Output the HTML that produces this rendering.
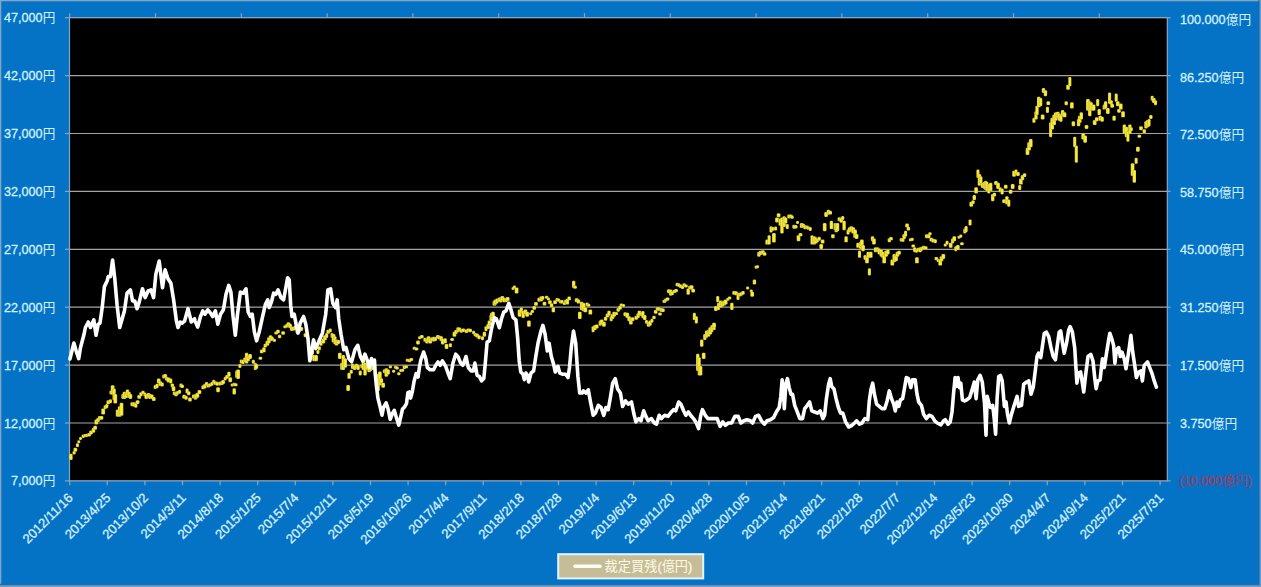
<!DOCTYPE html>
<html><head><meta charset="utf-8"><title>chart</title>
<style>
html,body{margin:0;padding:0;}
body{width:1261px;height:587px;overflow:hidden;background:#0473C5;font-family:"Liberation Sans","Noto Sans CJK JP",sans-serif;}
svg{display:block;}
text{font-family:"Liberation Sans","Noto Sans CJK JP",sans-serif;stroke-width:0.3px;}
</style></head><body>
<svg width="1261" height="587" viewBox="0 0 1261 587">
<rect x="0" y="0" width="1261" height="587" fill="#0473C5"/>
<rect x="0" y="0" width="1261" height="1.3" fill="#84A5C4"/>
<rect x="0" y="0" width="1.3" height="587" fill="#84A5C4"/>
<rect x="1258.4" y="0" width="1.3" height="587" fill="#1F6BAC"/>
<rect x="0" y="583.8" width="1261" height="1.5" fill="#1F6BAC"/>
<rect x="1259.6" y="0" width="1.4" height="587" fill="#6B9BC6"/>
<rect x="0" y="585.2" width="1261" height="1.8" fill="#6B9BC6"/>
<rect x="70.0" y="18.2" width="1097.0" height="462.2" fill="#000"/>
<line x1="70.0" y1="17.70" x2="1167.0" y2="17.70" stroke="#8FA3BA" stroke-width="1.2"/>
<line x1="65.0" y1="17.70" x2="70.0" y2="17.70" stroke="#8FA3BA" stroke-width="1.2"/>
<line x1="1167.0" y1="17.70" x2="1170.5" y2="17.70" stroke="#8FA3BA" stroke-width="1.2"/>
<line x1="70.0" y1="75.60" x2="1167.0" y2="75.60" stroke="#A4A4A4" stroke-width="1.2"/>
<line x1="65.0" y1="75.60" x2="70.0" y2="75.60" stroke="#8FA3BA" stroke-width="1.2"/>
<line x1="1167.0" y1="75.60" x2="1170.5" y2="75.60" stroke="#8FA3BA" stroke-width="1.2"/>
<line x1="70.0" y1="133.50" x2="1167.0" y2="133.50" stroke="#A4A4A4" stroke-width="1.2"/>
<line x1="65.0" y1="133.50" x2="70.0" y2="133.50" stroke="#8FA3BA" stroke-width="1.2"/>
<line x1="1167.0" y1="133.50" x2="1170.5" y2="133.50" stroke="#8FA3BA" stroke-width="1.2"/>
<line x1="70.0" y1="191.40" x2="1167.0" y2="191.40" stroke="#A4A4A4" stroke-width="1.2"/>
<line x1="65.0" y1="191.40" x2="70.0" y2="191.40" stroke="#8FA3BA" stroke-width="1.2"/>
<line x1="1167.0" y1="191.40" x2="1170.5" y2="191.40" stroke="#8FA3BA" stroke-width="1.2"/>
<line x1="70.0" y1="249.30" x2="1167.0" y2="249.30" stroke="#A4A4A4" stroke-width="1.2"/>
<line x1="65.0" y1="249.30" x2="70.0" y2="249.30" stroke="#8FA3BA" stroke-width="1.2"/>
<line x1="1167.0" y1="249.30" x2="1170.5" y2="249.30" stroke="#8FA3BA" stroke-width="1.2"/>
<line x1="70.0" y1="307.20" x2="1167.0" y2="307.20" stroke="#A4A4A4" stroke-width="1.2"/>
<line x1="65.0" y1="307.20" x2="70.0" y2="307.20" stroke="#8FA3BA" stroke-width="1.2"/>
<line x1="1167.0" y1="307.20" x2="1170.5" y2="307.20" stroke="#8FA3BA" stroke-width="1.2"/>
<line x1="70.0" y1="365.10" x2="1167.0" y2="365.10" stroke="#A4A4A4" stroke-width="1.2"/>
<line x1="65.0" y1="365.10" x2="70.0" y2="365.10" stroke="#8FA3BA" stroke-width="1.2"/>
<line x1="1167.0" y1="365.10" x2="1170.5" y2="365.10" stroke="#8FA3BA" stroke-width="1.2"/>
<line x1="70.0" y1="423.00" x2="1167.0" y2="423.00" stroke="#A4A4A4" stroke-width="1.2"/>
<line x1="65.0" y1="423.00" x2="70.0" y2="423.00" stroke="#8FA3BA" stroke-width="1.2"/>
<line x1="1167.0" y1="423.00" x2="1170.5" y2="423.00" stroke="#8FA3BA" stroke-width="1.2"/>
<line x1="70.0" y1="480.90" x2="1167.0" y2="480.90" stroke="#8FA3BA" stroke-width="1.2"/>
<line x1="65.0" y1="480.90" x2="70.0" y2="480.90" stroke="#8FA3BA" stroke-width="1.2"/>
<line x1="1167.0" y1="480.90" x2="1170.5" y2="480.90" stroke="#8FA3BA" stroke-width="1.2"/>
<line x1="69.5" y1="17.2" x2="69.5" y2="481.4" stroke="#8FA3BA" stroke-width="1.2"/>
<line x1="1167.3" y1="17.2" x2="1167.3" y2="481.4" stroke="#8FA3BA" stroke-width="1.2"/>
<line x1="69.70" y1="480.9" x2="69.70" y2="485.3" stroke="#8FA3BA" stroke-width="1.2"/>
<line x1="107.30" y1="480.9" x2="107.30" y2="485.3" stroke="#8FA3BA" stroke-width="1.2"/>
<line x1="144.90" y1="480.9" x2="144.90" y2="485.3" stroke="#8FA3BA" stroke-width="1.2"/>
<line x1="182.50" y1="480.9" x2="182.50" y2="485.3" stroke="#8FA3BA" stroke-width="1.2"/>
<line x1="220.10" y1="480.9" x2="220.10" y2="485.3" stroke="#8FA3BA" stroke-width="1.2"/>
<line x1="257.70" y1="480.9" x2="257.70" y2="485.3" stroke="#8FA3BA" stroke-width="1.2"/>
<line x1="295.30" y1="480.9" x2="295.30" y2="485.3" stroke="#8FA3BA" stroke-width="1.2"/>
<line x1="332.90" y1="480.9" x2="332.90" y2="485.3" stroke="#8FA3BA" stroke-width="1.2"/>
<line x1="370.50" y1="480.9" x2="370.50" y2="485.3" stroke="#8FA3BA" stroke-width="1.2"/>
<line x1="408.10" y1="480.9" x2="408.10" y2="485.3" stroke="#8FA3BA" stroke-width="1.2"/>
<line x1="445.70" y1="480.9" x2="445.70" y2="485.3" stroke="#8FA3BA" stroke-width="1.2"/>
<line x1="483.30" y1="480.9" x2="483.30" y2="485.3" stroke="#8FA3BA" stroke-width="1.2"/>
<line x1="520.90" y1="480.9" x2="520.90" y2="485.3" stroke="#8FA3BA" stroke-width="1.2"/>
<line x1="558.50" y1="480.9" x2="558.50" y2="485.3" stroke="#8FA3BA" stroke-width="1.2"/>
<line x1="596.10" y1="480.9" x2="596.10" y2="485.3" stroke="#8FA3BA" stroke-width="1.2"/>
<line x1="633.70" y1="480.9" x2="633.70" y2="485.3" stroke="#8FA3BA" stroke-width="1.2"/>
<line x1="671.30" y1="480.9" x2="671.30" y2="485.3" stroke="#8FA3BA" stroke-width="1.2"/>
<line x1="708.90" y1="480.9" x2="708.90" y2="485.3" stroke="#8FA3BA" stroke-width="1.2"/>
<line x1="746.50" y1="480.9" x2="746.50" y2="485.3" stroke="#8FA3BA" stroke-width="1.2"/>
<line x1="784.10" y1="480.9" x2="784.10" y2="485.3" stroke="#8FA3BA" stroke-width="1.2"/>
<line x1="821.70" y1="480.9" x2="821.70" y2="485.3" stroke="#8FA3BA" stroke-width="1.2"/>
<line x1="859.30" y1="480.9" x2="859.30" y2="485.3" stroke="#8FA3BA" stroke-width="1.2"/>
<line x1="896.90" y1="480.9" x2="896.90" y2="485.3" stroke="#8FA3BA" stroke-width="1.2"/>
<line x1="934.50" y1="480.9" x2="934.50" y2="485.3" stroke="#8FA3BA" stroke-width="1.2"/>
<line x1="972.10" y1="480.9" x2="972.10" y2="485.3" stroke="#8FA3BA" stroke-width="1.2"/>
<line x1="1009.70" y1="480.9" x2="1009.70" y2="485.3" stroke="#8FA3BA" stroke-width="1.2"/>
<line x1="1047.30" y1="480.9" x2="1047.30" y2="485.3" stroke="#8FA3BA" stroke-width="1.2"/>
<line x1="1084.90" y1="480.9" x2="1084.90" y2="485.3" stroke="#8FA3BA" stroke-width="1.2"/>
<line x1="1122.50" y1="480.9" x2="1122.50" y2="485.3" stroke="#8FA3BA" stroke-width="1.2"/>
<line x1="1160.10" y1="480.9" x2="1160.10" y2="485.3" stroke="#8FA3BA" stroke-width="1.2"/>
<line x1="69.70" y1="13.2" x2="69.70" y2="17.7" stroke="#8FA3BA" stroke-width="1.2"/>
<line x1="155.50" y1="13.2" x2="155.50" y2="17.7" stroke="#8FA3BA" stroke-width="1.2"/>
<line x1="241.30" y1="13.2" x2="241.30" y2="17.7" stroke="#8FA3BA" stroke-width="1.2"/>
<line x1="327.10" y1="13.2" x2="327.10" y2="17.7" stroke="#8FA3BA" stroke-width="1.2"/>
<line x1="412.90" y1="13.2" x2="412.90" y2="17.7" stroke="#8FA3BA" stroke-width="1.2"/>
<line x1="498.70" y1="13.2" x2="498.70" y2="17.7" stroke="#8FA3BA" stroke-width="1.2"/>
<line x1="584.50" y1="13.2" x2="584.50" y2="17.7" stroke="#8FA3BA" stroke-width="1.2"/>
<line x1="670.30" y1="13.2" x2="670.30" y2="17.7" stroke="#8FA3BA" stroke-width="1.2"/>
<line x1="756.10" y1="13.2" x2="756.10" y2="17.7" stroke="#8FA3BA" stroke-width="1.2"/>
<line x1="841.90" y1="13.2" x2="841.90" y2="17.7" stroke="#8FA3BA" stroke-width="1.2"/>
<line x1="927.70" y1="13.2" x2="927.70" y2="17.7" stroke="#8FA3BA" stroke-width="1.2"/>
<line x1="1013.50" y1="13.2" x2="1013.50" y2="17.7" stroke="#8FA3BA" stroke-width="1.2"/>
<line x1="1099.30" y1="13.2" x2="1099.30" y2="17.7" stroke="#8FA3BA" stroke-width="1.2"/>
<g fill="#F9EB3E" stroke="#000" stroke-opacity="0.32" stroke-width="0.5">
<rect x="68.96" y="453.82" width="3.7" height="6.14" rx="1.2"/><rect x="72.56" y="451.01" width="3.1" height="3.48" rx="1.2"/><rect x="73.52" y="447.82" width="3.7" height="3.93" rx="1.2"/><rect x="75.90" y="443.20" width="3.1" height="3.92" rx="1.2"/><rect x="77.24" y="440.30" width="3.1" height="3.00" rx="1.2"/><rect x="78.99" y="437.04" width="3.1" height="3.00" rx="1.2"/><rect x="81.66" y="434.40" width="3.1" height="3.48" rx="1.2"/><rect x="83.44" y="433.98" width="3.1" height="3.26" rx="1.2"/><rect x="85.20" y="433.66" width="3.1" height="3.26" rx="1.2"/><rect x="87.25" y="432.96" width="3.7" height="3.48" rx="1.2"/><rect x="89.17" y="430.50" width="3.7" height="3.92" rx="1.2"/><rect x="91.78" y="427.68" width="3.4" height="5.03" rx="1.2"/><rect x="93.29" y="425.72" width="3.7" height="3.92" rx="1.2"/><rect x="94.48" y="419.48" width="3.7" height="5.03" rx="1.2"/><rect x="96.18" y="418.04" width="3.7" height="3.92" rx="1.2"/><rect x="97.87" y="415.91" width="3.7" height="3.92" rx="1.2"/><rect x="99.60" y="415.99" width="3.7" height="3.70" rx="1.2"/><rect x="101.31" y="408.41" width="3.7" height="6.13" rx="1.2"/><rect x="103.60" y="405.21" width="3.1" height="3.93" rx="1.2"/><rect x="105.24" y="403.94" width="3.1" height="4.36" rx="1.2"/><rect x="106.44" y="400.35" width="3.7" height="3.93" rx="1.2"/><rect x="108.90" y="399.36" width="3.1" height="3.93" rx="1.2"/><rect x="109.41" y="390.45" width="3.7" height="3.93" rx="1.2"/><rect x="110.78" y="385.15" width="3.7" height="9.46" rx="1.2"/><rect x="112.42" y="388.47" width="3.4" height="11.67" rx="1.2"/><rect x="113.41" y="394.01" width="3.7" height="9.46" rx="1.2"/><rect x="115.81" y="409.51" width="3.7" height="7.25" rx="1.2"/><rect x="117.88" y="406.19" width="3.7" height="10.57" rx="1.2"/><rect x="119.64" y="402.87" width="3.7" height="12.78" rx="1.2"/><rect x="121.31" y="394.01" width="3.7" height="5.03" rx="1.2"/><rect x="122.63" y="391.79" width="3.7" height="7.25" rx="1.2"/><rect x="124.34" y="392.90" width="3.7" height="5.03" rx="1.2"/><rect x="125.74" y="389.58" width="3.4" height="6.13" rx="1.2"/><rect x="127.38" y="391.79" width="3.4" height="6.14" rx="1.2"/><rect x="128.81" y="394.01" width="3.4" height="5.03" rx="1.2"/><rect x="130.42" y="402.29" width="3.7" height="3.92" rx="1.2"/><rect x="132.54" y="402.29" width="3.7" height="4.37" rx="1.2"/><rect x="134.31" y="403.17" width="3.1" height="4.59" rx="1.2"/><rect x="135.75" y="400.13" width="3.7" height="3.93" rx="1.2"/><rect x="137.33" y="394.94" width="3.7" height="3.93" rx="1.2"/><rect x="139.28" y="392.21" width="3.4" height="3.92" rx="1.2"/><rect x="141.30" y="390.84" width="3.4" height="3.48" rx="1.2"/><rect x="143.42" y="392.51" width="3.1" height="3.92" rx="1.2"/><rect x="144.46" y="394.01" width="3.7" height="5.03" rx="1.2"/><rect x="146.72" y="392.90" width="3.7" height="5.03" rx="1.2"/><rect x="148.20" y="394.01" width="3.7" height="5.03" rx="1.2"/><rect x="149.98" y="394.49" width="3.7" height="4.37" rx="1.2"/><rect x="151.90" y="397.03" width="3.7" height="3.92" rx="1.2"/><rect x="153.66" y="385.12" width="3.1" height="3.92" rx="1.2"/><rect x="155.54" y="383.65" width="3.1" height="4.59" rx="1.2"/><rect x="156.93" y="378.50" width="3.7" height="5.03" rx="1.2"/><rect x="158.42" y="381.29" width="3.7" height="4.59" rx="1.2"/><rect x="160.35" y="382.47" width="3.4" height="3.93" rx="1.2"/><rect x="162.17" y="374.52" width="3.4" height="3.92" rx="1.2"/><rect x="163.61" y="374.09" width="3.4" height="3.70" rx="1.2"/><rect x="165.03" y="376.79" width="3.4" height="3.93" rx="1.2"/><rect x="166.74" y="377.39" width="3.7" height="5.03" rx="1.2"/><rect x="169.19" y="378.50" width="3.1" height="5.03" rx="1.2"/><rect x="170.64" y="383.39" width="3.4" height="3.92" rx="1.2"/><rect x="171.67" y="386.25" width="3.7" height="5.03" rx="1.2"/><rect x="172.78" y="391.38" width="3.7" height="3.93" rx="1.2"/><rect x="174.18" y="392.26" width="3.7" height="3.92" rx="1.2"/><rect x="175.98" y="390.88" width="3.1" height="3.93" rx="1.2"/><rect x="177.96" y="389.82" width="3.1" height="3.92" rx="1.2"/><rect x="179.37" y="383.43" width="3.4" height="3.92" rx="1.2"/><rect x="180.31" y="384.64" width="3.7" height="3.25" rx="1.2"/><rect x="182.27" y="394.72" width="3.7" height="3.92" rx="1.2"/><rect x="184.34" y="395.82" width="3.4" height="3.93" rx="1.2"/><rect x="185.53" y="388.47" width="3.1" height="5.03" rx="1.2"/><rect x="186.99" y="391.33" width="3.4" height="3.93" rx="1.2"/><rect x="188.11" y="397.48" width="3.7" height="3.92" rx="1.2"/><rect x="191.96" y="394.49" width="3.1" height="3.92" rx="1.2"/><rect x="193.76" y="395.80" width="3.4" height="3.93" rx="1.2"/><rect x="194.13" y="393.85" width="3.4" height="5.03" rx="1.2"/><rect x="195.84" y="392.74" width="3.4" height="5.03" rx="1.2"/><rect x="197.61" y="390.11" width="3.7" height="3.92" rx="1.2"/><rect x="201.33" y="385.37" width="3.7" height="3.92" rx="1.2"/><rect x="203.06" y="384.05" width="3.4" height="4.37" rx="1.2"/><rect x="204.89" y="382.00" width="3.4" height="3.93" rx="1.2"/><rect x="206.57" y="383.88" width="3.4" height="3.70" rx="1.2"/><rect x="208.32" y="383.13" width="3.7" height="3.48" rx="1.2"/><rect x="210.52" y="381.72" width="3.1" height="3.92" rx="1.2"/><rect x="212.22" y="379.85" width="3.1" height="3.92" rx="1.2"/><rect x="213.80" y="381.23" width="3.1" height="3.71" rx="1.2"/><rect x="215.57" y="381.85" width="3.4" height="3.92" rx="1.2"/><rect x="216.19" y="387.21" width="3.7" height="5.03" rx="1.2"/><rect x="218.23" y="381.71" width="3.4" height="3.71" rx="1.2"/><rect x="219.98" y="381.16" width="3.7" height="3.92" rx="1.2"/><rect x="221.29" y="380.08" width="3.7" height="3.92" rx="1.2"/><rect x="223.68" y="376.63" width="3.1" height="3.92" rx="1.2"/><rect x="225.22" y="374.91" width="3.7" height="3.92" rx="1.2"/><rect x="227.23" y="371.70" width="3.4" height="5.03" rx="1.2"/><rect x="228.39" y="377.24" width="3.7" height="5.03" rx="1.2"/><rect x="230.67" y="383.38" width="3.4" height="3.00" rx="1.2"/><rect x="232.58" y="382.79" width="3.4" height="3.00" rx="1.2"/><rect x="232.53" y="388.31" width="3.4" height="6.14" rx="1.2"/><rect x="233.86" y="383.33" width="3.7" height="3.00" rx="1.2"/><rect x="235.13" y="370.59" width="3.7" height="7.25" rx="1.2"/><rect x="236.28" y="369.48" width="3.7" height="9.46" rx="1.2"/><rect x="238.35" y="364.03" width="3.1" height="3.93" rx="1.2"/><rect x="239.74" y="359.54" width="3.1" height="3.93" rx="1.2"/><rect x="241.49" y="359.74" width="3.1" height="4.37" rx="1.2"/><rect x="243.23" y="357.38" width="3.4" height="4.59" rx="1.2"/><rect x="244.89" y="352.87" width="3.4" height="10.57" rx="1.2"/><rect x="246.26" y="356.19" width="3.7" height="5.03" rx="1.2"/><rect x="248.21" y="353.98" width="3.7" height="5.03" rx="1.2"/><rect x="251.79" y="359.81" width="3.1" height="3.93" rx="1.2"/><rect x="253.79" y="362.84" width="3.1" height="7.24" rx="1.2"/><rect x="254.49" y="363.94" width="3.7" height="5.04" rx="1.2"/><rect x="258.58" y="356.77" width="3.7" height="3.00" rx="1.2"/><rect x="259.93" y="349.41" width="3.4" height="3.93" rx="1.2"/><rect x="262.24" y="347.33" width="3.4" height="5.03" rx="1.2"/><rect x="263.57" y="343.65" width="3.4" height="3.92" rx="1.2"/><rect x="265.45" y="340.68" width="3.7" height="5.03" rx="1.2"/><rect x="267.16" y="337.36" width="3.4" height="6.14" rx="1.2"/><rect x="268.92" y="335.15" width="3.4" height="6.13" rx="1.2"/><rect x="270.70" y="336.74" width="3.1" height="3.93" rx="1.2"/><rect x="272.62" y="338.84" width="3.4" height="3.00" rx="1.2"/><rect x="274.32" y="331.41" width="3.7" height="3.00" rx="1.2"/><rect x="276.11" y="329.68" width="3.7" height="3.48" rx="1.2"/><rect x="277.87" y="334.81" width="3.4" height="3.48" rx="1.2"/><rect x="281.28" y="331.23" width="3.7" height="3.48" rx="1.2"/><rect x="283.31" y="325.13" width="3.7" height="3.00" rx="1.2"/><rect x="285.13" y="323.90" width="3.4" height="3.70" rx="1.2"/><rect x="286.61" y="322.23" width="3.7" height="3.92" rx="1.2"/><rect x="288.26" y="323.69" width="3.7" height="4.59" rx="1.2"/><rect x="289.99" y="326.59" width="3.7" height="4.37" rx="1.2"/><rect x="291.95" y="326.47" width="3.7" height="4.14" rx="1.2"/><rect x="293.78" y="325.80" width="3.1" height="3.93" rx="1.2"/><rect x="295.59" y="328.50" width="3.1" height="5.03" rx="1.2"/><rect x="297.15" y="328.64" width="3.7" height="3.92" rx="1.2"/><rect x="299.73" y="326.96" width="3.4" height="3.92" rx="1.2"/><rect x="303.63" y="333.28" width="3.7" height="3.92" rx="1.2"/><rect x="310.35" y="349.54" width="3.7" height="5.04" rx="1.2"/><rect x="312.21" y="355.08" width="3.4" height="6.14" rx="1.2"/><rect x="314.25" y="355.08" width="3.7" height="6.14" rx="1.2"/><rect x="316.38" y="350.04" width="3.1" height="3.93" rx="1.2"/><rect x="317.55" y="346.35" width="3.4" height="3.92" rx="1.2"/><rect x="319.50" y="340.68" width="3.1" height="5.03" rx="1.2"/><rect x="321.48" y="338.47" width="3.7" height="5.03" rx="1.2"/><rect x="323.17" y="335.15" width="3.7" height="5.03" rx="1.2"/><rect x="325.12" y="332.93" width="3.1" height="5.03" rx="1.2"/><rect x="326.37" y="329.81" width="3.7" height="3.92" rx="1.2"/><rect x="328.69" y="328.43" width="3.1" height="3.92" rx="1.2"/><rect x="330.51" y="332.93" width="3.1" height="5.03" rx="1.2"/><rect x="331.68" y="334.04" width="3.7" height="8.35" rx="1.2"/><rect x="333.41" y="336.16" width="3.1" height="8.35" rx="1.2"/><rect x="334.96" y="339.48" width="3.4" height="6.14" rx="1.2"/><rect x="336.44" y="340.12" width="3.7" height="3.92" rx="1.2"/><rect x="337.96" y="352.77" width="3.7" height="6.14" rx="1.2"/><rect x="340.15" y="362.74" width="3.7" height="7.25" rx="1.2"/><rect x="341.66" y="354.99" width="3.4" height="15.00" rx="1.2"/><rect x="343.58" y="358.31" width="3.4" height="9.46" rx="1.2"/><rect x="346.26" y="384.90" width="3.7" height="6.14" rx="1.2"/><rect x="347.38" y="372.71" width="3.4" height="6.14" rx="1.2"/><rect x="349.71" y="369.80" width="3.1" height="3.92" rx="1.2"/><rect x="350.93" y="363.85" width="3.7" height="5.03" rx="1.2"/><rect x="352.82" y="364.96" width="3.7" height="5.03" rx="1.2"/><rect x="354.77" y="363.85" width="3.7" height="5.03" rx="1.2"/><rect x="356.42" y="364.96" width="3.4" height="5.03" rx="1.2"/><rect x="358.71" y="370.50" width="3.1" height="5.03" rx="1.2"/><rect x="360.22" y="364.19" width="3.7" height="3.92" rx="1.2"/><rect x="361.53" y="359.42" width="3.7" height="10.57" rx="1.2"/><rect x="363.36" y="362.74" width="3.4" height="12.79" rx="1.2"/><rect x="365.33" y="363.85" width="3.1" height="6.14" rx="1.2"/><rect x="367.28" y="364.96" width="3.7" height="7.25" rx="1.2"/><rect x="369.00" y="366.07" width="3.4" height="5.03" rx="1.2"/><rect x="370.79" y="364.96" width="3.7" height="5.03" rx="1.2"/><rect x="376.16" y="373.82" width="3.7" height="17.22" rx="1.2"/><rect x="378.03" y="371.61" width="3.7" height="13.89" rx="1.2"/><rect x="379.71" y="378.25" width="3.4" height="5.03" rx="1.2"/><rect x="381.30" y="382.68" width="3.7" height="5.03" rx="1.2"/><rect x="382.87" y="369.24" width="3.7" height="3.92" rx="1.2"/><rect x="384.51" y="368.28" width="3.7" height="8.36" rx="1.2"/><rect x="386.21" y="369.39" width="3.7" height="5.03" rx="1.2"/><rect x="388.84" y="365.36" width="3.1" height="3.00" rx="1.2"/><rect x="392.07" y="369.77" width="3.1" height="3.00" rx="1.2"/><rect x="393.86" y="365.76" width="3.7" height="3.00" rx="1.2"/><rect x="395.13" y="366.48" width="3.7" height="3.00" rx="1.2"/><rect x="397.14" y="372.15" width="3.4" height="3.00" rx="1.2"/><rect x="399.22" y="369.02" width="3.4" height="3.00" rx="1.2"/><rect x="401.18" y="368.74" width="3.1" height="3.00" rx="1.2"/><rect x="402.74" y="365.17" width="3.4" height="3.92" rx="1.2"/><rect x="404.30" y="365.35" width="3.7" height="3.00" rx="1.2"/><rect x="405.73" y="358.84" width="3.7" height="3.00" rx="1.2"/><rect x="407.73" y="358.99" width="3.7" height="3.26" rx="1.2"/><rect x="409.49" y="357.96" width="3.7" height="3.00" rx="1.2"/><rect x="412.64" y="346.82" width="3.7" height="3.00" rx="1.2"/><rect x="414.67" y="347.47" width="3.7" height="3.00" rx="1.2"/><rect x="416.15" y="340.51" width="3.7" height="3.92" rx="1.2"/><rect x="418.03" y="336.24" width="3.4" height="3.00" rx="1.2"/><rect x="419.93" y="335.07" width="3.7" height="3.26" rx="1.2"/><rect x="423.36" y="337.86" width="3.4" height="3.92" rx="1.2"/><rect x="425.21" y="338.38" width="3.7" height="5.03" rx="1.2"/><rect x="426.70" y="336.16" width="3.7" height="6.14" rx="1.2"/><rect x="428.38" y="338.38" width="3.7" height="5.03" rx="1.2"/><rect x="430.28" y="337.28" width="3.4" height="3.92" rx="1.2"/><rect x="432.10" y="336.79" width="3.7" height="4.59" rx="1.2"/><rect x="434.00" y="336.97" width="3.1" height="3.92" rx="1.2"/><rect x="435.97" y="334.93" width="3.7" height="3.93" rx="1.2"/><rect x="437.74" y="335.70" width="3.7" height="3.70" rx="1.2"/><rect x="439.55" y="336.16" width="3.4" height="5.03" rx="1.2"/><rect x="440.95" y="338.38" width="3.4" height="6.13" rx="1.2"/><rect x="443.71" y="338.34" width="3.1" height="5.03" rx="1.2"/><rect x="444.67" y="343.88" width="3.7" height="5.03" rx="1.2"/><rect x="448.86" y="343.28" width="3.1" height="3.93" rx="1.2"/><rect x="450.26" y="338.03" width="3.7" height="3.00" rx="1.2"/><rect x="452.57" y="331.70" width="3.7" height="5.03" rx="1.2"/><rect x="454.31" y="329.97" width="3.4" height="3.92" rx="1.2"/><rect x="456.32" y="327.27" width="3.4" height="5.03" rx="1.2"/><rect x="457.64" y="327.58" width="3.7" height="3.92" rx="1.2"/><rect x="459.68" y="329.19" width="3.4" height="3.48" rx="1.2"/><rect x="461.44" y="328.40" width="3.7" height="3.48" rx="1.2"/><rect x="464.61" y="329.48" width="3.7" height="3.48" rx="1.2"/><rect x="466.47" y="328.38" width="3.7" height="3.48" rx="1.2"/><rect x="468.32" y="328.73" width="3.7" height="3.48" rx="1.2"/><rect x="472.07" y="330.70" width="3.1" height="3.48" rx="1.2"/><rect x="473.71" y="333.11" width="3.4" height="3.26" rx="1.2"/><rect x="475.26" y="333.46" width="3.7" height="3.93" rx="1.2"/><rect x="477.41" y="335.22" width="3.4" height="3.92" rx="1.2"/><rect x="480.94" y="336.28" width="3.1" height="3.92" rx="1.2"/><rect x="482.68" y="331.70" width="3.4" height="5.03" rx="1.2"/><rect x="484.47" y="326.16" width="3.1" height="5.03" rx="1.2"/><rect x="486.37" y="323.94" width="3.7" height="5.04" rx="1.2"/><rect x="487.60" y="320.62" width="3.7" height="5.03" rx="1.2"/><rect x="489.35" y="315.08" width="3.1" height="6.14" rx="1.2"/><rect x="489.92" y="312.87" width="3.7" height="5.03" rx="1.2"/><rect x="491.16" y="311.76" width="3.7" height="5.03" rx="1.2"/><rect x="492.53" y="300.68" width="3.7" height="5.03" rx="1.2"/><rect x="493.63" y="299.58" width="3.7" height="5.03" rx="1.2"/><rect x="495.43" y="298.47" width="3.1" height="5.03" rx="1.2"/><rect x="497.54" y="297.45" width="3.1" height="4.59" rx="1.2"/><rect x="499.06" y="297.36" width="3.4" height="5.03" rx="1.2"/><rect x="500.50" y="296.02" width="3.7" height="4.59" rx="1.2"/><rect x="502.34" y="297.69" width="3.7" height="4.59" rx="1.2"/><rect x="504.67" y="298.25" width="3.1" height="3.92" rx="1.2"/><rect x="505.79" y="296.96" width="3.7" height="3.92" rx="1.2"/><rect x="511.48" y="286.95" width="3.1" height="3.00" rx="1.2"/><rect x="512.87" y="285.58" width="3.1" height="3.26" rx="1.2"/><rect x="514.73" y="287.39" width="3.7" height="6.14" rx="1.2"/><rect x="517.73" y="309.54" width="3.7" height="7.25" rx="1.2"/><rect x="519.81" y="307.33" width="3.1" height="6.14" rx="1.2"/><rect x="521.48" y="310.65" width="3.4" height="7.25" rx="1.2"/><rect x="523.61" y="309.54" width="3.7" height="5.04" rx="1.2"/><rect x="525.29" y="311.76" width="3.7" height="5.03" rx="1.2"/><rect x="527.08" y="320.62" width="3.7" height="6.14" rx="1.2"/><rect x="529.14" y="312.28" width="3.1" height="3.00" rx="1.2"/><rect x="530.64" y="309.92" width="3.4" height="3.00" rx="1.2"/><rect x="532.38" y="305.94" width="3.7" height="3.92" rx="1.2"/><rect x="534.13" y="301.94" width="3.7" height="3.92" rx="1.2"/><rect x="537.32" y="297.72" width="3.7" height="3.92" rx="1.2"/><rect x="539.53" y="296.25" width="3.7" height="5.03" rx="1.2"/><rect x="541.20" y="295.93" width="3.1" height="3.92" rx="1.2"/><rect x="542.64" y="301.66" width="3.7" height="3.92" rx="1.2"/><rect x="544.91" y="295.66" width="3.4" height="3.00" rx="1.2"/><rect x="546.85" y="297.48" width="3.1" height="3.00" rx="1.2"/><rect x="548.08" y="300.35" width="3.7" height="3.93" rx="1.2"/><rect x="549.89" y="303.28" width="3.4" height="3.92" rx="1.2"/><rect x="551.64" y="307.33" width="3.4" height="5.03" rx="1.2"/><rect x="553.21" y="300.19" width="3.7" height="3.92" rx="1.2"/><rect x="555.49" y="298.07" width="3.4" height="3.48" rx="1.2"/><rect x="557.08" y="298.49" width="3.1" height="3.26" rx="1.2"/><rect x="559.04" y="299.98" width="3.7" height="3.48" rx="1.2"/><rect x="560.59" y="299.94" width="3.1" height="3.48" rx="1.2"/><rect x="562.74" y="301.95" width="3.4" height="3.00" rx="1.2"/><rect x="564.17" y="299.38" width="3.7" height="3.92" rx="1.2"/><rect x="565.94" y="298.47" width="3.1" height="6.14" rx="1.2"/><rect x="567.52" y="296.40" width="3.4" height="3.93" rx="1.2"/><rect x="571.98" y="280.75" width="3.4" height="7.24" rx="1.2"/><rect x="573.22" y="285.69" width="3.7" height="3.00" rx="1.2"/><rect x="574.77" y="298.17" width="3.7" height="3.92" rx="1.2"/><rect x="575.02" y="298.43" width="3.7" height="3.70" rx="1.2"/><rect x="576.78" y="299.47" width="3.4" height="4.14" rx="1.2"/><rect x="577.97" y="311.76" width="3.7" height="7.25" rx="1.2"/><rect x="579.90" y="301.79" width="3.7" height="8.35" rx="1.2"/><rect x="581.84" y="302.90" width="3.7" height="8.35" rx="1.2"/><rect x="583.49" y="307.33" width="3.7" height="5.03" rx="1.2"/><rect x="585.63" y="302.40" width="3.1" height="3.92" rx="1.2"/><rect x="586.97" y="303.69" width="3.4" height="3.00" rx="1.2"/><rect x="588.48" y="309.54" width="3.7" height="5.04" rx="1.2"/><rect x="591.58" y="326.16" width="3.1" height="6.14" rx="1.2"/><rect x="593.19" y="325.05" width="3.4" height="5.03" rx="1.2"/><rect x="594.84" y="324.45" width="3.7" height="3.93" rx="1.2"/><rect x="598.63" y="320.62" width="3.4" height="5.03" rx="1.2"/><rect x="599.93" y="319.51" width="3.7" height="5.03" rx="1.2"/><rect x="602.09" y="321.73" width="3.7" height="5.03" rx="1.2"/><rect x="603.88" y="316.77" width="3.4" height="3.92" rx="1.2"/><rect x="605.64" y="313.55" width="3.7" height="3.92" rx="1.2"/><rect x="607.30" y="310.65" width="3.4" height="5.03" rx="1.2"/><rect x="609.63" y="316.19" width="3.1" height="5.03" rx="1.2"/><rect x="610.70" y="313.98" width="3.7" height="5.03" rx="1.2"/><rect x="612.33" y="311.76" width="3.7" height="5.03" rx="1.2"/><rect x="614.59" y="312.10" width="3.4" height="3.00" rx="1.2"/><rect x="616.48" y="307.90" width="3.4" height="3.92" rx="1.2"/><rect x="618.16" y="305.71" width="3.7" height="3.92" rx="1.2"/><rect x="619.67" y="303.46" width="3.4" height="3.00" rx="1.2"/><rect x="621.97" y="303.92" width="3.1" height="3.00" rx="1.2"/><rect x="623.43" y="312.31" width="3.7" height="3.92" rx="1.2"/><rect x="625.46" y="312.87" width="3.7" height="5.03" rx="1.2"/><rect x="627.29" y="316.19" width="3.7" height="5.03" rx="1.2"/><rect x="629.03" y="318.41" width="3.7" height="6.13" rx="1.2"/><rect x="630.75" y="317.18" width="3.7" height="3.92" rx="1.2"/><rect x="634.45" y="315.86" width="3.7" height="3.93" rx="1.2"/><rect x="636.41" y="313.32" width="3.4" height="4.59" rx="1.2"/><rect x="637.60" y="310.65" width="3.7" height="5.03" rx="1.2"/><rect x="640.09" y="312.28" width="3.1" height="3.92" rx="1.2"/><rect x="641.40" y="311.10" width="3.1" height="7.24" rx="1.2"/><rect x="643.05" y="315.08" width="3.4" height="5.03" rx="1.2"/><rect x="644.96" y="319.88" width="3.1" height="3.93" rx="1.2"/><rect x="646.79" y="321.73" width="3.7" height="5.03" rx="1.2"/><rect x="648.34" y="320.62" width="3.4" height="5.03" rx="1.2"/><rect x="650.36" y="318.82" width="3.1" height="3.93" rx="1.2"/><rect x="652.28" y="315.85" width="3.4" height="3.26" rx="1.2"/><rect x="653.86" y="309.89" width="3.7" height="3.93" rx="1.2"/><rect x="655.80" y="306.93" width="3.7" height="3.92" rx="1.2"/><rect x="657.15" y="307.26" width="3.7" height="3.48" rx="1.2"/><rect x="658.14" y="312.49" width="3.7" height="3.00" rx="1.2"/><rect x="659.66" y="307.96" width="3.7" height="3.92" rx="1.2"/><rect x="661.09" y="308.62" width="3.7" height="3.26" rx="1.2"/><rect x="662.49" y="299.63" width="3.7" height="3.25" rx="1.2"/><rect x="664.13" y="298.39" width="3.1" height="3.48" rx="1.2"/><rect x="665.61" y="297.42" width="3.7" height="3.26" rx="1.2"/><rect x="666.98" y="289.28" width="3.7" height="3.92" rx="1.2"/><rect x="669.12" y="289.61" width="3.1" height="6.14" rx="1.2"/><rect x="670.80" y="291.30" width="3.1" height="3.93" rx="1.2"/><rect x="672.54" y="289.64" width="3.7" height="3.48" rx="1.2"/><rect x="674.24" y="288.90" width="3.7" height="3.26" rx="1.2"/><rect x="675.58" y="282.85" width="3.1" height="3.48" rx="1.2"/><rect x="677.30" y="283.19" width="3.1" height="3.70" rx="1.2"/><rect x="679.06" y="284.62" width="3.7" height="3.48" rx="1.2"/><rect x="680.79" y="285.70" width="3.4" height="3.26" rx="1.2"/><rect x="682.45" y="283.16" width="3.4" height="3.00" rx="1.2"/><rect x="684.12" y="284.55" width="3.7" height="3.00" rx="1.2"/><rect x="686.50" y="288.50" width="3.4" height="6.14" rx="1.2"/><rect x="688.18" y="285.63" width="3.7" height="3.92" rx="1.2"/><rect x="689.74" y="285.13" width="3.7" height="4.37" rx="1.2"/><rect x="691.30" y="288.63" width="3.7" height="3.92" rx="1.2"/><rect x="692.81" y="312.87" width="3.1" height="7.24" rx="1.2"/><rect x="694.79" y="316.19" width="3.1" height="7.25" rx="1.2"/><rect x="696.05" y="353.85" width="3.4" height="17.22" rx="1.2"/><rect x="697.66" y="357.17" width="3.1" height="18.33" rx="1.2"/><rect x="698.92" y="366.04" width="3.4" height="9.46" rx="1.2"/><rect x="700.03" y="339.45" width="3.4" height="7.25" rx="1.2"/><rect x="701.83" y="352.74" width="3.7" height="6.14" rx="1.2"/><rect x="703.13" y="333.91" width="3.4" height="6.14" rx="1.2"/><rect x="704.92" y="330.59" width="3.1" height="7.25" rx="1.2"/><rect x="707.11" y="329.48" width="3.1" height="7.25" rx="1.2"/><rect x="708.42" y="327.27" width="3.7" height="7.24" rx="1.2"/><rect x="710.29" y="325.05" width="3.1" height="7.25" rx="1.2"/><rect x="711.98" y="323.94" width="3.7" height="6.14" rx="1.2"/><rect x="712.20" y="322.65" width="3.7" height="5.03" rx="1.2"/><rect x="714.04" y="306.04" width="3.7" height="5.03" rx="1.2"/><rect x="716.16" y="296.07" width="3.1" height="6.14" rx="1.2"/><rect x="716.96" y="302.71" width="3.1" height="7.25" rx="1.2"/><rect x="718.79" y="300.50" width="3.7" height="7.24" rx="1.2"/><rect x="720.51" y="301.61" width="3.7" height="5.03" rx="1.2"/><rect x="722.31" y="300.50" width="3.7" height="5.03" rx="1.2"/><rect x="723.85" y="299.39" width="3.7" height="5.03" rx="1.2"/><rect x="726.28" y="297.86" width="3.1" height="3.00" rx="1.2"/><rect x="727.88" y="296.39" width="3.4" height="3.00" rx="1.2"/><rect x="730.15" y="302.71" width="3.4" height="7.25" rx="1.2"/><rect x="732.29" y="290.92" width="3.7" height="3.92" rx="1.2"/><rect x="734.14" y="291.22" width="3.7" height="3.92" rx="1.2"/><rect x="736.45" y="292.74" width="3.1" height="7.25" rx="1.2"/><rect x="737.88" y="292.64" width="3.7" height="3.93" rx="1.2"/><rect x="739.42" y="292.13" width="3.4" height="3.70" rx="1.2"/><rect x="741.31" y="290.88" width="3.4" height="3.92" rx="1.2"/><rect x="746.10" y="286.48" width="3.1" height="3.00" rx="1.2"/><rect x="749.76" y="289.56" width="3.1" height="3.00" rx="1.2"/><rect x="750.32" y="291.64" width="3.7" height="5.03" rx="1.2"/><rect x="752.74" y="279.45" width="3.4" height="5.03" rx="1.2"/><rect x="754.60" y="265.41" width="3.1" height="3.26" rx="1.2"/><rect x="755.95" y="265.26" width="3.1" height="3.00" rx="1.2"/><rect x="757.23" y="251.76" width="3.4" height="5.03" rx="1.2"/><rect x="758.83" y="250.84" width="3.7" height="4.14" rx="1.2"/><rect x="761.00" y="250.30" width="3.7" height="3.93" rx="1.2"/><rect x="762.73" y="252.19" width="3.7" height="3.48" rx="1.2"/><rect x="765.34" y="239.58" width="3.7" height="5.03" rx="1.2"/><rect x="767.60" y="235.15" width="3.1" height="9.46" rx="1.2"/><rect x="769.49" y="226.28" width="3.1" height="6.14" rx="1.2"/><rect x="771.28" y="226.94" width="3.1" height="3.92" rx="1.2"/><rect x="772.07" y="232.93" width="3.7" height="9.46" rx="1.2"/><rect x="774.04" y="226.59" width="3.1" height="3.92" rx="1.2"/><rect x="775.13" y="217.42" width="3.7" height="5.03" rx="1.2"/><rect x="776.76" y="213.30" width="3.7" height="3.92" rx="1.2"/><rect x="778.52" y="218.53" width="3.7" height="7.25" rx="1.2"/><rect x="780.26" y="217.42" width="3.4" height="16.11" rx="1.2"/><rect x="782.43" y="216.31" width="3.4" height="10.57" rx="1.2"/><rect x="783.94" y="217.42" width="3.4" height="6.14" rx="1.2"/><rect x="785.68" y="224.07" width="3.1" height="5.03" rx="1.2"/><rect x="787.27" y="214.53" width="3.1" height="3.92" rx="1.2"/><rect x="788.90" y="214.53" width="3.7" height="3.71" rx="1.2"/><rect x="790.65" y="215.60" width="3.1" height="3.26" rx="1.2"/><rect x="792.29" y="224.87" width="3.4" height="3.92" rx="1.2"/><rect x="793.76" y="225.12" width="3.7" height="3.48" rx="1.2"/><rect x="795.96" y="220.90" width="3.1" height="3.00" rx="1.2"/><rect x="796.65" y="235.15" width="3.7" height="6.13" rx="1.2"/><rect x="798.65" y="233.08" width="3.7" height="3.26" rx="1.2"/><rect x="799.85" y="222.96" width="3.7" height="5.03" rx="1.2"/><rect x="801.49" y="223.68" width="3.7" height="3.92" rx="1.2"/><rect x="803.29" y="225.13" width="3.4" height="4.15" rx="1.2"/><rect x="805.34" y="225.59" width="3.4" height="3.48" rx="1.2"/><rect x="806.63" y="226.60" width="3.7" height="3.26" rx="1.2"/><rect x="808.70" y="227.11" width="3.1" height="3.92" rx="1.2"/><rect x="810.49" y="235.15" width="3.1" height="9.46" rx="1.2"/><rect x="812.58" y="236.25" width="3.4" height="8.36" rx="1.2"/><rect x="814.06" y="237.36" width="3.7" height="6.14" rx="1.2"/><rect x="815.86" y="238.37" width="3.1" height="3.92" rx="1.2"/><rect x="817.70" y="236.87" width="3.1" height="3.93" rx="1.2"/><rect x="819.35" y="244.01" width="3.7" height="5.03" rx="1.2"/><rect x="820.72" y="239.58" width="3.7" height="3.92" rx="1.2"/><rect x="822.84" y="222.96" width="3.7" height="8.35" rx="1.2"/><rect x="824.25" y="211.88" width="3.7" height="5.03" rx="1.2"/><rect x="826.71" y="209.67" width="3.4" height="5.03" rx="1.2"/><rect x="828.30" y="210.67" width="3.7" height="3.92" rx="1.2"/><rect x="829.68" y="220.75" width="3.4" height="8.35" rx="1.2"/><rect x="831.06" y="234.27" width="3.7" height="3.92" rx="1.2"/><rect x="833.51" y="222.96" width="3.1" height="7.25" rx="1.2"/><rect x="834.58" y="224.01" width="3.4" height="8.35" rx="1.2"/><rect x="835.81" y="222.90" width="3.4" height="8.35" rx="1.2"/><rect x="837.59" y="217.24" width="3.7" height="3.92" rx="1.2"/><rect x="839.52" y="218.06" width="3.7" height="4.59" rx="1.2"/><rect x="841.15" y="216.07" width="3.1" height="3.93" rx="1.2"/><rect x="842.40" y="220.68" width="3.4" height="9.46" rx="1.2"/><rect x="844.39" y="236.19" width="3.4" height="6.14" rx="1.2"/><rect x="846.51" y="229.54" width="3.1" height="5.04" rx="1.2"/><rect x="847.79" y="227.33" width="3.7" height="5.03" rx="1.2"/><rect x="849.55" y="226.22" width="3.7" height="5.03" rx="1.2"/><rect x="851.33" y="227.33" width="3.7" height="6.14" rx="1.2"/><rect x="853.24" y="229.54" width="3.7" height="8.36" rx="1.2"/><rect x="854.69" y="233.98" width="3.7" height="5.03" rx="1.2"/><rect x="856.28" y="242.84" width="3.4" height="5.03" rx="1.2"/><rect x="857.96" y="250.59" width="3.1" height="7.25" rx="1.2"/><rect x="858.93" y="241.73" width="3.7" height="7.25" rx="1.2"/><rect x="860.04" y="239.51" width="3.7" height="7.25" rx="1.2"/><rect x="861.25" y="245.05" width="3.7" height="6.14" rx="1.2"/><rect x="863.53" y="255.02" width="3.1" height="5.03" rx="1.2"/><rect x="865.13" y="256.13" width="3.7" height="7.24" rx="1.2"/><rect x="866.43" y="251.70" width="3.7" height="6.14" rx="1.2"/><rect x="867.84" y="268.31" width="3.1" height="7.25" rx="1.2"/><rect x="868.86" y="251.70" width="3.7" height="6.14" rx="1.2"/><rect x="870.82" y="236.19" width="3.4" height="5.03" rx="1.2"/><rect x="872.12" y="238.41" width="3.7" height="6.13" rx="1.2"/><rect x="873.84" y="247.27" width="3.4" height="5.03" rx="1.2"/><rect x="876.17" y="247.27" width="3.1" height="5.03" rx="1.2"/><rect x="877.59" y="248.38" width="3.4" height="6.13" rx="1.2"/><rect x="879.57" y="249.48" width="3.4" height="7.25" rx="1.2"/><rect x="881.06" y="251.70" width="3.4" height="6.14" rx="1.2"/><rect x="882.31" y="255.02" width="3.7" height="8.35" rx="1.2"/><rect x="884.26" y="250.59" width="3.7" height="6.14" rx="1.2"/><rect x="886.19" y="249.48" width="3.4" height="5.03" rx="1.2"/><rect x="887.66" y="238.36" width="3.4" height="3.92" rx="1.2"/><rect x="889.09" y="237.10" width="3.7" height="3.26" rx="1.2"/><rect x="890.45" y="259.45" width="3.7" height="6.14" rx="1.2"/><rect x="892.43" y="253.91" width="3.7" height="8.36" rx="1.2"/><rect x="894.18" y="255.02" width="3.7" height="6.14" rx="1.2"/><rect x="895.58" y="251.70" width="3.7" height="5.03" rx="1.2"/><rect x="897.18" y="250.81" width="3.7" height="3.92" rx="1.2"/><rect x="899.67" y="238.10" width="3.1" height="3.48" rx="1.2"/><rect x="901.11" y="237.95" width="3.4" height="3.92" rx="1.2"/><rect x="902.35" y="233.98" width="3.7" height="5.03" rx="1.2"/><rect x="903.99" y="230.65" width="3.1" height="6.14" rx="1.2"/><rect x="905.22" y="223.55" width="3.7" height="3.92" rx="1.2"/><rect x="906.66" y="226.69" width="3.4" height="3.92" rx="1.2"/><rect x="908.86" y="238.33" width="3.4" height="3.00" rx="1.2"/><rect x="910.64" y="237.77" width="3.1" height="3.26" rx="1.2"/><rect x="911.39" y="244.57" width="3.7" height="3.00" rx="1.2"/><rect x="913.07" y="247.27" width="3.4" height="5.03" rx="1.2"/><rect x="915.00" y="248.77" width="3.1" height="3.92" rx="1.2"/><rect x="915.07" y="257.24" width="3.7" height="6.13" rx="1.2"/><rect x="916.74" y="247.79" width="3.1" height="3.92" rx="1.2"/><rect x="918.49" y="247.27" width="3.4" height="5.03" rx="1.2"/><rect x="920.09" y="246.86" width="3.1" height="3.92" rx="1.2"/><rect x="921.86" y="245.87" width="3.7" height="3.92" rx="1.2"/><rect x="923.84" y="246.26" width="3.7" height="3.26" rx="1.2"/><rect x="924.94" y="234.26" width="3.7" height="3.92" rx="1.2"/><rect x="926.83" y="234.33" width="3.7" height="3.93" rx="1.2"/><rect x="928.28" y="232.22" width="3.4" height="3.00" rx="1.2"/><rect x="929.50" y="237.65" width="3.7" height="3.92" rx="1.2"/><rect x="931.53" y="238.66" width="3.4" height="3.92" rx="1.2"/><rect x="933.78" y="239.26" width="3.1" height="3.93" rx="1.2"/><rect x="934.51" y="256.91" width="3.7" height="3.25" rx="1.2"/><rect x="936.66" y="259.11" width="3.7" height="3.00" rx="1.2"/><rect x="938.34" y="259.45" width="3.7" height="6.14" rx="1.2"/><rect x="939.75" y="256.13" width="3.7" height="5.03" rx="1.2"/><rect x="941.48" y="253.91" width="3.7" height="5.03" rx="1.2"/><rect x="943.71" y="243.60" width="3.1" height="3.00" rx="1.2"/><rect x="945.49" y="240.71" width="3.1" height="3.92" rx="1.2"/><rect x="948.86" y="242.84" width="3.7" height="5.03" rx="1.2"/><rect x="951.03" y="238.41" width="3.1" height="5.03" rx="1.2"/><rect x="952.40" y="236.19" width="3.7" height="5.03" rx="1.2"/><rect x="954.24" y="246.16" width="3.1" height="5.03" rx="1.2"/><rect x="955.96" y="245.05" width="3.7" height="5.03" rx="1.2"/><rect x="957.46" y="235.67" width="3.1" height="3.00" rx="1.2"/><rect x="959.20" y="234.44" width="3.1" height="3.26" rx="1.2"/><rect x="960.09" y="242.25" width="3.7" height="3.00" rx="1.2"/><rect x="963.23" y="228.44" width="3.1" height="5.03" rx="1.2"/><rect x="964.56" y="226.07" width="3.1" height="6.14" rx="1.2"/><rect x="968.51" y="219.42" width="3.1" height="6.14" rx="1.2"/><rect x="969.40" y="201.70" width="3.7" height="5.03" rx="1.2"/><rect x="971.54" y="200.15" width="3.1" height="3.93" rx="1.2"/><rect x="972.59" y="195.05" width="3.4" height="5.03" rx="1.2"/><rect x="974.26" y="187.30" width="3.7" height="6.14" rx="1.2"/><rect x="976.39" y="169.58" width="3.1" height="8.35" rx="1.2"/><rect x="977.72" y="174.01" width="3.4" height="11.67" rx="1.2"/><rect x="979.36" y="176.22" width="3.1" height="7.25" rx="1.2"/><rect x="980.84" y="182.87" width="3.1" height="5.03" rx="1.2"/><rect x="982.79" y="181.76" width="3.1" height="7.25" rx="1.2"/><rect x="984.10" y="180.65" width="3.1" height="9.46" rx="1.2"/><rect x="985.38" y="181.76" width="3.1" height="9.46" rx="1.2"/><rect x="987.25" y="183.98" width="3.1" height="9.46" rx="1.2"/><rect x="988.97" y="182.87" width="3.4" height="8.35" rx="1.2"/><rect x="991.02" y="193.94" width="3.4" height="7.25" rx="1.2"/><rect x="992.68" y="192.63" width="3.4" height="3.92" rx="1.2"/><rect x="994.14" y="181.09" width="3.7" height="3.92" rx="1.2"/><rect x="996.19" y="182.87" width="3.7" height="6.14" rx="1.2"/><rect x="998.61" y="187.30" width="3.1" height="5.03" rx="1.2"/><rect x="1000.60" y="188.41" width="3.1" height="6.13" rx="1.2"/><rect x="1002.21" y="199.18" width="3.7" height="3.93" rx="1.2"/><rect x="1003.89" y="184.79" width="3.7" height="3.93" rx="1.2"/><rect x="1005.18" y="196.16" width="3.4" height="8.35" rx="1.2"/><rect x="1007.23" y="199.48" width="3.1" height="7.25" rx="1.2"/><rect x="1008.78" y="189.74" width="3.7" height="3.93" rx="1.2"/><rect x="1010.83" y="183.98" width="3.7" height="5.03" rx="1.2"/><rect x="1012.21" y="170.68" width="3.7" height="6.14" rx="1.2"/><rect x="1014.47" y="169.58" width="3.1" height="5.03" rx="1.2"/><rect x="1016.09" y="172.03" width="3.7" height="3.92" rx="1.2"/><rect x="1018.15" y="185.08" width="3.1" height="5.03" rx="1.2"/><rect x="1019.03" y="178.44" width="3.7" height="6.14" rx="1.2"/><rect x="1020.83" y="175.11" width="3.4" height="5.03" rx="1.2"/><rect x="1022.85" y="173.20" width="3.4" height="3.92" rx="1.2"/><rect x="1025.66" y="147.74" width="3.7" height="7.24" rx="1.2"/><rect x="1027.18" y="142.20" width="3.7" height="8.35" rx="1.2"/><rect x="1028.88" y="138.88" width="3.7" height="8.35" rx="1.2"/><rect x="1032.36" y="117.84" width="3.1" height="5.03" rx="1.2"/><rect x="1034.30" y="111.20" width="3.4" height="8.35" rx="1.2"/><rect x="1035.30" y="105.66" width="3.4" height="9.46" rx="1.2"/><rect x="1036.97" y="96.81" width="3.7" height="10.56" rx="1.2"/><rect x="1039.16" y="97.91" width="3.1" height="8.35" rx="1.2"/><rect x="1040.79" y="114.52" width="3.7" height="5.03" rx="1.2"/><rect x="1041.81" y="87.95" width="3.4" height="5.03" rx="1.2"/><rect x="1043.75" y="90.16" width="3.4" height="6.14" rx="1.2"/><rect x="1045.89" y="106.77" width="3.1" height="6.14" rx="1.2"/><rect x="1046.41" y="101.18" width="3.7" height="3.92" rx="1.2"/><rect x="1049.05" y="122.27" width="3.1" height="14.99" rx="1.2"/><rect x="1050.37" y="117.84" width="3.7" height="11.67" rx="1.2"/><rect x="1052.28" y="114.52" width="3.7" height="10.57" rx="1.2"/><rect x="1053.98" y="112.31" width="3.4" height="8.35" rx="1.2"/><rect x="1055.89" y="111.64" width="3.7" height="6.80" rx="1.2"/><rect x="1057.43" y="113.41" width="3.7" height="7.25" rx="1.2"/><rect x="1059.17" y="114.52" width="3.4" height="7.24" rx="1.2"/><rect x="1060.89" y="110.09" width="3.4" height="6.14" rx="1.2"/><rect x="1062.67" y="112.31" width="3.7" height="5.03" rx="1.2"/><rect x="1064.52" y="101.34" width="3.4" height="3.92" rx="1.2"/><rect x="1066.21" y="84.63" width="3.7" height="5.03" rx="1.2"/><rect x="1068.28" y="76.88" width="3.1" height="9.46" rx="1.2"/><rect x="1070.01" y="102.34" width="3.7" height="6.14" rx="1.2"/><rect x="1071.65" y="121.16" width="3.4" height="5.03" rx="1.2"/><rect x="1073.15" y="136.66" width="3.1" height="10.57" rx="1.2"/><rect x="1074.77" y="145.52" width="3.1" height="17.21" rx="1.2"/><rect x="1076.92" y="118.95" width="3.4" height="7.24" rx="1.2"/><rect x="1077.86" y="115.63" width="3.7" height="7.24" rx="1.2"/><rect x="1079.59" y="112.31" width="3.4" height="7.24" rx="1.2"/><rect x="1081.31" y="133.34" width="3.7" height="6.14" rx="1.2"/><rect x="1083.28" y="135.56" width="3.7" height="7.24" rx="1.2"/><rect x="1084.66" y="125.00" width="3.7" height="3.92" rx="1.2"/><rect x="1086.04" y="99.02" width="3.7" height="11.67" rx="1.2"/><rect x="1088.07" y="101.24" width="3.4" height="14.99" rx="1.2"/><rect x="1089.79" y="102.34" width="3.1" height="8.35" rx="1.2"/><rect x="1091.76" y="104.56" width="3.7" height="6.13" rx="1.2"/><rect x="1092.85" y="120.06" width="3.7" height="5.03" rx="1.2"/><rect x="1094.89" y="117.29" width="3.7" height="3.92" rx="1.2"/><rect x="1096.11" y="99.02" width="3.1" height="7.24" rx="1.2"/><rect x="1097.52" y="108.99" width="3.4" height="6.13" rx="1.2"/><rect x="1098.43" y="115.63" width="3.7" height="5.03" rx="1.2"/><rect x="1100.46" y="116.74" width="3.4" height="5.02" rx="1.2"/><rect x="1102.61" y="104.56" width="3.4" height="5.03" rx="1.2"/><rect x="1103.89" y="101.24" width="3.4" height="7.24" rx="1.2"/><rect x="1105.97" y="107.88" width="3.7" height="6.13" rx="1.2"/><rect x="1108.02" y="92.38" width="3.1" height="11.67" rx="1.2"/><rect x="1109.75" y="100.13" width="3.1" height="5.03" rx="1.2"/><rect x="1110.31" y="103.84" width="3.7" height="3.92" rx="1.2"/><rect x="1112.39" y="115.63" width="3.4" height="5.03" rx="1.2"/><rect x="1114.68" y="93.49" width="3.1" height="8.35" rx="1.2"/><rect x="1115.94" y="101.24" width="3.7" height="5.02" rx="1.2"/><rect x="1117.11" y="108.90" width="3.7" height="3.92" rx="1.2"/><rect x="1118.92" y="103.45" width="3.7" height="6.14" rx="1.2"/><rect x="1121.20" y="111.20" width="3.7" height="6.14" rx="1.2"/><rect x="1122.65" y="124.49" width="3.4" height="9.45" rx="1.2"/><rect x="1124.71" y="126.70" width="3.4" height="10.56" rx="1.2"/><rect x="1126.36" y="131.13" width="3.1" height="10.56" rx="1.2"/><rect x="1128.18" y="124.49" width="3.4" height="9.45" rx="1.2"/><rect x="1129.74" y="127.26" width="3.1" height="3.92" rx="1.2"/><rect x="1130.74" y="163.24" width="3.7" height="12.77" rx="1.2"/><rect x="1132.60" y="169.88" width="3.4" height="12.78" rx="1.2"/><rect x="1134.61" y="157.70" width="3.1" height="6.14" rx="1.2"/><rect x="1136.03" y="146.63" width="3.7" height="5.03" rx="1.2"/><rect x="1137.48" y="134.66" width="3.7" height="3.00" rx="1.2"/><rect x="1139.15" y="126.27" width="3.7" height="3.92" rx="1.2"/><rect x="1142.57" y="129.25" width="3.4" height="3.93" rx="1.2"/><rect x="1144.25" y="121.16" width="3.4" height="7.25" rx="1.2"/><rect x="1145.86" y="120.06" width="3.7" height="7.24" rx="1.2"/><rect x="1147.50" y="118.95" width="3.1" height="7.24" rx="1.2"/><rect x="1149.12" y="115.06" width="3.4" height="3.92" rx="1.2"/><rect x="1150.63" y="95.70" width="3.1" height="5.03" rx="1.2"/><rect x="1151.98" y="97.91" width="3.7" height="5.03" rx="1.2"/><rect x="1153.92" y="100.13" width="3.1" height="5.03" rx="1.2"/>
</g>
<polyline points="69.9,359.0 73.9,343.0 76.1,350.8 78.7,358.6 80.5,347.5 83.8,335.3 85.4,327.5 88.3,322.0 90.5,327.5 93.8,319.8 96.0,335.3 98.2,324.2 100.0,323.1 102.2,307.6 104.4,286.6 107.1,281.0 108.2,276.6 110.4,276.6 112.6,260.0 114.8,278.8 117.1,305.4 119.7,327.5 122.2,318.7 124.4,310.9 127.0,293.2 130.4,289.9 132.6,301.0 134.8,301.0 137.0,308.7 139.2,302.1 142.5,288.8 145.2,297.6 148.1,291.0 151.0,289.9 153.6,297.6 155.8,274.4 159.2,261.1 162.5,287.7 165.1,269.9 168.0,278.8 170.9,283.2 173.6,299.8 176.4,320.9 178.0,327.5 180.2,322.0 182.4,323.1 184.6,320.9 188.0,308.7 191.3,322.0 194.6,318.7 195.0,320.9 197.7,327.1 200.5,316.5 202.8,310.9 205.0,314.2 207.8,309.8 210.5,313.1 212.7,316.5 215.4,310.9 217.8,324.2 220.5,314.2 223.4,309.8 226.0,294.3 228.7,285.4 230.9,292.1 233.1,316.5 235.3,335.3 237.5,314.2 240.4,292.1 243.3,293.2 246.0,288.8 248.2,312.0 250.4,316.5 252.2,314.2 254.4,332.0 256.6,340.8 259.2,332.0 262.6,316.5 265.4,304.3 267.7,299.8 269.2,307.6 271.4,302.1 273.6,293.2 275.9,294.3 278.1,289.9 281.0,297.6 283.6,299.8 285.8,287.7 287.6,277.7 289.2,279.9 290.7,305.4 292.0,316.5 294.2,314.2 296.5,326.4 298.0,333.1 300.2,323.1 303.6,316.5 305.8,324.2 308.0,338.6 309.8,360.8 312.0,349.7 313.5,339.7 315.7,348.6 319.1,340.8 322.4,333.1 325.7,314.2 327.9,289.9 330.6,288.8 332.8,303.2 333.4,304.3 335.6,307.7 337.2,299.9 338.7,318.7 341.0,334.2 343.8,349.8 346.0,347.5 348.9,358.6 351.6,361.9 354.9,349.8 357.8,345.3 360.4,356.4 362.7,360.8 364.9,354.2 367.5,360.8 369.3,367.5 371.5,358.6 373.7,365.3 374.5,360.0 375.2,373.6 376.6,387.2 377.9,398.1 380.0,406.3 382.0,415.2 383.4,407.7 386.1,402.9 388.1,409.0 390.2,419.3 392.2,413.8 394.3,410.4 396.3,417.2 398.8,425.1 400.7,417.2 402.5,409.0 404.5,407.0 406.5,403.6 407.9,392.7 409.3,392.0 410.6,398.1 412.4,391.3 414.0,381.8 416.1,373.6 418.1,377.0 419.5,366.8 420.8,360.0 423.6,352.0 425.8,358.6 427.3,367.5 430.2,369.7 433.6,369.7 435.8,365.3 438.0,361.9 440.2,365.3 442.4,360.8 445.7,366.4 448.0,373.0 450.2,378.6 453.0,363.0 455.7,354.2 457.9,356.4 460.6,363.0 462.8,365.3 463.8,363.1 466.0,356.5 468.3,367.5 471.1,370.9 473.4,370.9 474.9,363.1 477.1,375.3 479.3,376.4 481.6,380.8 483.8,378.6 485.3,363.1 487.1,342.1 489.3,341.0 491.5,328.8 494.2,317.7 496.4,318.8 499.3,327.7 501.5,318.8 503.7,312.2 505.9,311.0 508.8,303.3 511.0,309.9 513.2,317.7 515.9,319.9 517.7,338.7 519.2,360.9 520.8,372.0 523.0,374.2 524.3,379.7 525.9,373.1 527.4,375.3 528.7,381.9 531.0,373.1 533.6,370.9 535.8,356.5 538.0,343.2 540.7,332.1 542.9,325.4 545.1,334.3 547.3,350.9 549.1,343.2 551.3,356.5 553.6,364.2 555.3,372.0 558.0,366.4 559.8,373.1 562.4,374.2 565.7,374.2 568.0,377.5 569.5,367.5 571.3,347.6 573.5,331.0 575.7,343.2 577.9,376.4 579.7,393.0 582.4,393.0 583.4,390.9 586.1,393.1 588.3,389.8 590.5,402.0 593.2,415.3 595.4,413.0 598.3,405.3 601.1,407.5 603.8,415.3 606.0,407.5 608.2,409.7 610.4,397.5 612.7,383.1 615.3,378.7 617.5,388.7 620.4,393.1 622.6,406.4 625.5,400.9 628.2,404.2 631.5,402.0 633.7,413.0 635.9,421.9 638.8,418.6 641.0,420.8 643.7,410.8 645.9,416.4 648.1,420.8 651.4,418.6 654.3,423.0 656.5,424.1 659.2,415.3 661.4,418.6 664.7,415.3 668.0,416.4 671.4,411.9 673.6,409.7 675.8,410.8 678.7,402.0 680.9,404.2 683.6,410.8 685.8,415.3 688.4,411.9 690.6,415.3 693.5,418.6 696.4,423.0 698.6,428.6 700.8,415.3 702.4,409.7 705.3,415.3 707.9,418.6 711.2,418.6 713.9,418.6 717.2,418.6 720.1,426.4 722.7,421.9 725.4,425.3 728.3,423.0 731.6,423.0 734.9,416.4 738.2,416.4 740.9,423.0 743.8,420.8 747.1,419.7 750.4,420.8 752.6,423.0 755.5,416.4 758.6,415.3 761.5,420.8 764.4,424.2 767.0,420.8 770.4,419.7 773.7,417.5 776.3,412.0 779.2,407.5 780.8,396.5 782.1,379.8 783.6,394.2 784.3,408.6 785.9,383.2 787.4,378.7 789.2,387.6 791.0,394.2 792.5,394.2 794.7,405.3 796.9,410.9 799.8,418.6 802.5,418.6 804.7,408.6 807.3,405.3 809.6,402.0 811.8,410.9 814.7,412.0 817.5,413.1 820.2,410.9 822.9,418.6 824.6,415.3 826.4,398.7 828.6,384.3 830.2,378.7 831.7,386.5 833.9,388.7 836.1,398.7 838.4,407.5 840.6,413.1 842.8,413.1 845.6,421.9 848.7,427.0 851.6,425.7 854.5,423.0 856.7,420.8 859.4,424.2 862.0,423.0 864.9,418.6 867.8,419.7 869.3,400.9 870.9,389.8 872.7,383.2 874.4,394.2 876.6,404.2 879.3,406.4 882.0,408.6 884.8,408.6 887.1,400.9 889.3,390.9 891.5,398.7 893.7,404.2 895.3,410.9 897.0,402.0 898.8,406.4 900.4,399.8 902.6,398.7 904.8,386.5 906.3,377.6 908.5,378.7 910.8,387.6 912.5,379.8 915.2,379.8 917.0,394.2 918.7,402.0 921.4,405.3 923.6,414.2 926.3,418.6 929.2,415.3 932.0,416.4 934.7,420.8 937.3,423.0 940.9,424.8 943.6,420.8 945.3,419.7 948.0,424.2 950.2,421.9 952.0,412.0 953.5,394.2 955.1,377.6 956.4,386.5 958.0,377.6 959.5,387.6 960.8,383.2 962.4,399.8 964.6,400.9 966.8,399.8 969.7,397.6 972.4,388.7 974.3,382.0 976.1,398.6 977.8,379.8 980.1,375.4 982.3,382.0 984.5,403.0 986.0,435.2 987.2,396.4 988.9,403.0 990.5,407.5 992.7,405.3 994.2,418.6 995.6,434.1 997.1,398.6 998.7,376.5 1000.4,375.4 1002.2,380.9 1004.4,406.4 1006.0,401.9 1007.5,414.1 1009.3,423.0 1011.5,414.1 1014.2,405.3 1017.1,396.4 1018.6,406.4 1021.5,405.3 1023.7,384.2 1026.6,382.0 1028.8,380.9 1031.0,394.2 1033.2,387.5 1035.4,369.8 1037.0,356.5 1038.5,353.2 1040.8,357.6 1042.5,345.4 1044.3,333.3 1046.5,332.2 1048.7,336.6 1051.0,347.7 1053.2,356.5 1055.4,359.8 1057.6,343.2 1059.2,332.2 1060.7,331.0 1062.5,343.2 1064.2,353.2 1066.5,343.2 1068.7,329.9 1070.2,326.6 1072.4,332.2 1074.7,347.7 1075.8,365.4 1076.9,383.1 1078.4,373.1 1080.6,372.0 1082.4,383.1 1083.7,392.0 1085.7,374.2 1088.0,356.5 1090.8,354.3 1093.0,361.0 1094.6,376.5 1096.1,388.6 1097.9,380.9 1100.1,379.8 1101.9,363.2 1102.5,358.7 1104.3,367.6 1106.5,353.2 1108.3,342.1 1109.8,333.2 1112.1,339.9 1113.6,345.4 1114.9,363.1 1116.5,349.8 1118.7,347.6 1120.3,356.5 1122.0,352.1 1124.2,358.7 1126.0,368.7 1127.6,358.7 1129.1,348.7 1130.9,335.4 1132.7,352.1 1134.9,366.5 1136.4,377.5 1138.6,372.0 1140.9,370.9 1142.4,380.9 1144.2,365.4 1147.5,362.0 1149.7,367.6 1151.9,373.1 1154.2,380.9 1156.4,387.1" fill="none" stroke="#fff" stroke-width="3.6" stroke-linejoin="round" stroke-linecap="round"/>
<text x="42.70" y="22.20" font-size="12.6" fill="#D6F1FF">円</text><text x="42.60" y="22.20" font-size="12.6" fill="#D6F1FF" stroke="#D6F1FF" text-anchor="end">47,000</text>
<text x="42.70" y="80.10" font-size="12.6" fill="#D6F1FF">円</text><text x="42.60" y="80.10" font-size="12.6" fill="#D6F1FF" stroke="#D6F1FF" text-anchor="end">42,000</text>
<text x="42.70" y="138.00" font-size="12.6" fill="#D6F1FF">円</text><text x="42.60" y="138.00" font-size="12.6" fill="#D6F1FF" stroke="#D6F1FF" text-anchor="end">37,000</text>
<text x="42.70" y="195.90" font-size="12.6" fill="#D6F1FF">円</text><text x="42.60" y="195.90" font-size="12.6" fill="#D6F1FF" stroke="#D6F1FF" text-anchor="end">32,000</text>
<text x="42.70" y="253.80" font-size="12.6" fill="#D6F1FF">円</text><text x="42.60" y="253.80" font-size="12.6" fill="#D6F1FF" stroke="#D6F1FF" text-anchor="end">27,000</text>
<text x="42.70" y="311.70" font-size="12.6" fill="#D6F1FF">円</text><text x="42.60" y="311.70" font-size="12.6" fill="#D6F1FF" stroke="#D6F1FF" text-anchor="end">22,000</text>
<text x="42.70" y="369.60" font-size="12.6" fill="#D6F1FF">円</text><text x="42.60" y="369.60" font-size="12.6" fill="#D6F1FF" stroke="#D6F1FF" text-anchor="end">17,000</text>
<text x="42.70" y="427.50" font-size="12.6" fill="#D6F1FF">円</text><text x="42.60" y="427.50" font-size="12.6" fill="#D6F1FF" stroke="#D6F1FF" text-anchor="end">12,000</text>
<text x="42.70" y="485.40" font-size="12.6" fill="#D6F1FF">円</text><text x="42.60" y="485.40" font-size="12.6" fill="#D6F1FF" stroke="#D6F1FF" text-anchor="end">7,000</text>
<text x="1180.00" y="24.00" font-size="12.6" fill="#D6F1FF" stroke="#D6F1FF">100.000</text><text x="1225.84" y="24.00" font-size="12.7" fill="#D6F1FF">億円</text>
<text x="1180.00" y="81.50" font-size="12.6" fill="#D6F1FF" stroke="#D6F1FF">86.250</text><text x="1218.83" y="81.50" font-size="12.7" fill="#D6F1FF">億円</text>
<text x="1180.00" y="139.00" font-size="12.6" fill="#D6F1FF" stroke="#D6F1FF">72.500</text><text x="1218.83" y="139.00" font-size="12.7" fill="#D6F1FF">億円</text>
<text x="1180.00" y="196.60" font-size="12.6" fill="#D6F1FF" stroke="#D6F1FF">58.750</text><text x="1218.83" y="196.60" font-size="12.7" fill="#D6F1FF">億円</text>
<text x="1180.00" y="254.20" font-size="12.6" fill="#D6F1FF" stroke="#D6F1FF">45.000</text><text x="1218.83" y="254.20" font-size="12.7" fill="#D6F1FF">億円</text>
<text x="1180.00" y="312.00" font-size="12.6" fill="#D6F1FF" stroke="#D6F1FF">31.250</text><text x="1218.83" y="312.00" font-size="12.7" fill="#D6F1FF">億円</text>
<text x="1180.00" y="369.80" font-size="12.6" fill="#D6F1FF" stroke="#D6F1FF">17.500</text><text x="1218.83" y="369.80" font-size="12.7" fill="#D6F1FF">億円</text>
<text x="1180.00" y="427.70" font-size="12.6" fill="#D6F1FF" stroke="#D6F1FF">3.750</text><text x="1211.83" y="427.70" font-size="12.7" fill="#D6F1FF">億円</text>
<text x="1179.00" y="485.00" font-size="12.6" fill="#A23A63" stroke="#A23A63">(10.000</text><text x="1222.03" y="485.00" font-size="12.7" fill="#A23A63">億円</text><text x="1247.73" y="485.00" font-size="12.6" fill="#A23A63" stroke="#A23A63">)</text>
<text transform="translate(70.90,495.80) rotate(-45)" x="0" y="4" font-size="13.1" fill="#D6F1FF" stroke="#D6F1FF" text-anchor="end">2012/11/16</text>
<text transform="translate(108.50,495.80) rotate(-45)" x="0" y="4" font-size="13.1" fill="#D6F1FF" stroke="#D6F1FF" text-anchor="end">2013/4/25</text>
<text transform="translate(146.10,495.80) rotate(-45)" x="0" y="4" font-size="13.1" fill="#D6F1FF" stroke="#D6F1FF" text-anchor="end">2013/10/2</text>
<text transform="translate(183.70,495.80) rotate(-45)" x="0" y="4" font-size="13.1" fill="#D6F1FF" stroke="#D6F1FF" text-anchor="end">2014/3/11</text>
<text transform="translate(221.30,495.80) rotate(-45)" x="0" y="4" font-size="13.1" fill="#D6F1FF" stroke="#D6F1FF" text-anchor="end">2014/8/18</text>
<text transform="translate(258.90,495.80) rotate(-45)" x="0" y="4" font-size="13.1" fill="#D6F1FF" stroke="#D6F1FF" text-anchor="end">2015/1/25</text>
<text transform="translate(296.50,495.80) rotate(-45)" x="0" y="4" font-size="13.1" fill="#D6F1FF" stroke="#D6F1FF" text-anchor="end">2015/7/4</text>
<text transform="translate(334.10,495.80) rotate(-45)" x="0" y="4" font-size="13.1" fill="#D6F1FF" stroke="#D6F1FF" text-anchor="end">2015/12/11</text>
<text transform="translate(371.70,495.80) rotate(-45)" x="0" y="4" font-size="13.1" fill="#D6F1FF" stroke="#D6F1FF" text-anchor="end">2016/5/19</text>
<text transform="translate(409.30,495.80) rotate(-45)" x="0" y="4" font-size="13.1" fill="#D6F1FF" stroke="#D6F1FF" text-anchor="end">2016/10/26</text>
<text transform="translate(446.90,495.80) rotate(-45)" x="0" y="4" font-size="13.1" fill="#D6F1FF" stroke="#D6F1FF" text-anchor="end">2017/4/4</text>
<text transform="translate(484.50,495.80) rotate(-45)" x="0" y="4" font-size="13.1" fill="#D6F1FF" stroke="#D6F1FF" text-anchor="end">2017/9/11</text>
<text transform="translate(522.10,495.80) rotate(-45)" x="0" y="4" font-size="13.1" fill="#D6F1FF" stroke="#D6F1FF" text-anchor="end">2018/2/18</text>
<text transform="translate(559.70,495.80) rotate(-45)" x="0" y="4" font-size="13.1" fill="#D6F1FF" stroke="#D6F1FF" text-anchor="end">2018/7/28</text>
<text transform="translate(597.30,495.80) rotate(-45)" x="0" y="4" font-size="13.1" fill="#D6F1FF" stroke="#D6F1FF" text-anchor="end">2019/1/4</text>
<text transform="translate(634.90,495.80) rotate(-45)" x="0" y="4" font-size="13.1" fill="#D6F1FF" stroke="#D6F1FF" text-anchor="end">2019/6/13</text>
<text transform="translate(672.50,495.80) rotate(-45)" x="0" y="4" font-size="13.1" fill="#D6F1FF" stroke="#D6F1FF" text-anchor="end">2019/11/20</text>
<text transform="translate(710.10,495.80) rotate(-45)" x="0" y="4" font-size="13.1" fill="#D6F1FF" stroke="#D6F1FF" text-anchor="end">2020/4/28</text>
<text transform="translate(747.70,495.80) rotate(-45)" x="0" y="4" font-size="13.1" fill="#D6F1FF" stroke="#D6F1FF" text-anchor="end">2020/10/5</text>
<text transform="translate(785.30,495.80) rotate(-45)" x="0" y="4" font-size="13.1" fill="#D6F1FF" stroke="#D6F1FF" text-anchor="end">2021/3/14</text>
<text transform="translate(822.90,495.80) rotate(-45)" x="0" y="4" font-size="13.1" fill="#D6F1FF" stroke="#D6F1FF" text-anchor="end">2021/8/21</text>
<text transform="translate(860.50,495.80) rotate(-45)" x="0" y="4" font-size="13.1" fill="#D6F1FF" stroke="#D6F1FF" text-anchor="end">2022/1/28</text>
<text transform="translate(898.10,495.80) rotate(-45)" x="0" y="4" font-size="13.1" fill="#D6F1FF" stroke="#D6F1FF" text-anchor="end">2022/7/7</text>
<text transform="translate(935.70,495.80) rotate(-45)" x="0" y="4" font-size="13.1" fill="#D6F1FF" stroke="#D6F1FF" text-anchor="end">2022/12/14</text>
<text transform="translate(973.30,495.80) rotate(-45)" x="0" y="4" font-size="13.1" fill="#D6F1FF" stroke="#D6F1FF" text-anchor="end">2023/5/23</text>
<text transform="translate(1010.90,495.80) rotate(-45)" x="0" y="4" font-size="13.1" fill="#D6F1FF" stroke="#D6F1FF" text-anchor="end">2023/10/30</text>
<text transform="translate(1048.50,495.80) rotate(-45)" x="0" y="4" font-size="13.1" fill="#D6F1FF" stroke="#D6F1FF" text-anchor="end">2024/4/7</text>
<text transform="translate(1086.10,495.80) rotate(-45)" x="0" y="4" font-size="13.1" fill="#D6F1FF" stroke="#D6F1FF" text-anchor="end">2024/9/14</text>
<text transform="translate(1123.70,495.80) rotate(-45)" x="0" y="4" font-size="13.1" fill="#D6F1FF" stroke="#D6F1FF" text-anchor="end">2025/2/21</text>
<text transform="translate(1161.30,495.80) rotate(-45)" x="0" y="4" font-size="13.1" fill="#D6F1FF" stroke="#D6F1FF" text-anchor="end">2025/7/31</text>
<rect x="558.2" y="554.2" width="145" height="24.2" fill="#C4BD97" stroke="#E3F4FF" stroke-width="2"/>
<line x1="575" y1="566.2" x2="600" y2="566.2" stroke="#FFFDF0" stroke-width="3.6" stroke-linecap="round"/>
<text x="604.60" y="570.70" font-size="13.2" fill="#FFF9E3">裁定買残</text><text x="657.40" y="570.70" font-size="13" fill="#FFF9E3" stroke="#FFF9E3">(</text><text x="661.70" y="570.70" font-size="13.2" fill="#FFF9E3">億円</text><text x="688.10" y="570.70" font-size="13" fill="#FFF9E3" stroke="#FFF9E3">)</text>
</svg>
</body></html>
